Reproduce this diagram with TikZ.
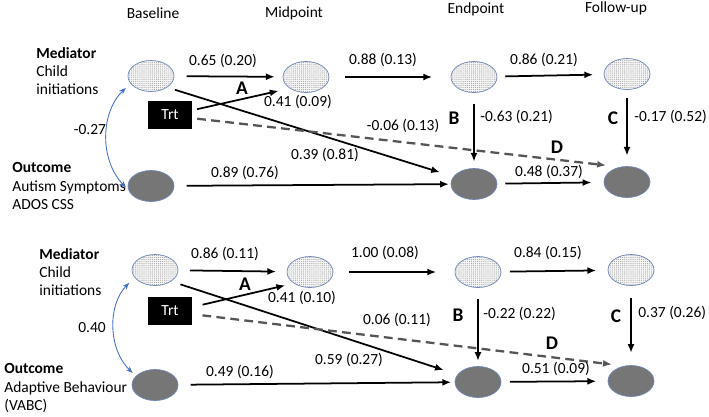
\documentclass[tikz,border=0pt]{standalone}
\usepackage{fontspec}
\setmainfont{Carlito}
\usetikzlibrary{arrows.meta,shapes.geometric,patterns}

\definecolor{rimblue}{HTML}{6F86B8}
\definecolor{covblue}{HTML}{4472C4}
\definecolor{outgray}{HTML}{767676}
\definecolor{dashgray}{HTML}{555555}

\pgfdeclarepatternformonly{finedots}{\pgfqpoint{-0.3pt}{-0.3pt}}{\pgfqpoint{0.3pt}{0.3pt}}{\pgfqpoint{1.1pt}{1.1pt}}{\pgfpathcircle{\pgfqpoint{0pt}{0pt}}{0.3pt}\pgfusepath{fill}}

\tikzset{
  med/.style={ellipse, draw=rimblue, line width=0.4pt, minimum width=0.92cm, minimum height=0.62cm, inner sep=0pt, preaction={fill=gray!6}, pattern=finedots, pattern color=gray!75},
  outc/.style={ellipse, draw=rimblue, line width=0.4pt, fill=outgray, minimum width=0.92cm, minimum height=0.62cm, inner sep=0pt},
  trtbox/.style={fill=black, text=white, minimum width=0.9cm, minimum height=0.56cm, inner sep=0pt},
  link/.style={-{Latex[length=5pt,width=4pt]}, line width=1pt, shorten <=6pt, shorten >=6pt},
  direct/.style={-{Latex[length=5pt,width=4pt]}, dashgray, line width=1.3pt, dash pattern=on 5pt off 3pt},
  cov/.style={{Stealth[length=4pt,width=3pt]}-{Stealth[length=4pt,width=3pt]}, covblue, line width=0.5pt},
  side/.style={align=left, anchor=west, inner sep=0pt},
  tag/.style={font=\bfseries\fontsize{11}{13}\selectfont}
}

\begin{document}
\begin{tikzpicture}[x=0.02cm, y=-0.02cm, font=\fontsize{8.8}{10.3}\selectfont]
\useasboundingbox (0,0) rectangle (709,416);

% time points
\node (hb) at (153,13) {Baseline};
\node (hm) at (294,13) {Midpoint};
\node (he) at (476,9) {Endpoint};
\node (hf) at (616,8) {Follow-up};

% ---- autism symptoms ----
\node[side] (mtxt1) at (36,71) {\textbf{Mediator}\\Child\\initiations};
\node[side] (otxt1) at (12,186) {\textbf{Outcome}\\Autism Symptoms\\ADOS CSS};

\node[med] (bm1) at (151,76) {};
\node[med] (mm1) at (306,77) {};
\node[med] (em1) at (474,77) {};
\node[med] (fm1) at (627,74) {};
\node[outc] (bo1) at (151,186) {};
\node[outc] (eo1) at (474,184) {};
\node[outc] (fo1) at (627,182) {};
\node[trtbox] (trt1) at (170,115) {Trt};

\draw[link, shorten <=7pt, shorten >=4.5pt] (bm1) -- (mm1);
\draw[link, shorten <=9pt, shorten >=10.5pt] (mm1) -- (em1);
\draw[link, shorten <=4.5pt, shorten >=6pt] (em1) -- (fm1);
\draw[link, shorten <=7pt, shorten >=1pt] (bo1) -- (eo1);
\draw[link, shorten <=4.5pt, shorten >=7pt] (eo1) -- (fo1);
\draw[link, shorten <=6.5pt, shorten >=3.7pt] (em1) -- (eo1);
\draw[link, shorten <=4.8pt, shorten >=6pt] (fm1) -- (fo1);
\draw[link, shorten <=4.6pt, shorten >=8pt] (bm1.-35) -- (eo1.160);
\draw[link, shorten <=2.5pt, shorten >=6.5pt] (trt1.12) -- (mm1.215);
\draw[direct, shorten <=2.5pt, shorten >=8pt] (trt1.-8) -- (fo1.115);
\draw[cov, shorten <=3.6pt, shorten >=2pt] (bm1.200) to[bend right=45] (bo1.190);

\node (l1) at (223,61) {0.65 (0.20)};
\node (l2) at (298,102) {0.41 (0.09)};
\node (l3) at (383,60) {0.88 (0.13)};
\node (l4) at (544,60) {0.86 (0.21)};
\node (l5) at (403,126) {-0.06 (0.13)};
\node (l6) at (325,155) {0.39 (0.81)};
\node[anchor=west, inner sep=0pt] (l7) at (480,117) {-0.63 (0.21)};
\node[anchor=west, inner sep=0pt] (l8) at (634,117) {-0.17 (0.52)};
\node (l9) at (245,173) {0.89 (0.76)};
\node (l10) at (549,172) {0.48 (0.37)};
\node (l11) at (90,130) {-0.27};
\node[tag] (ta1) at (242,88) {A};
\node[tag] (tb1) at (454,118) {B};
\node[tag] (tc1) at (613,118) {C};
\node[tag] (td1) at (557,147) {D};

% ---- adaptive behaviour ----
\node[side] (mtxt2) at (39,272) {\textbf{Mediator}\\Child\\initiations};
\node[side] (otxt2) at (4,388) {\textbf{Outcome}\\Adaptive Behaviour\\(VABC)};

\node[med] (bm2) at (155,270) {};
\node[med] (mm2) at (310,272) {};
\node[med] (em2) at (478,272) {};
\node[med] (fm2) at (631,270) {};
\node[outc] (bo2) at (155,385) {};
\node[outc] (eo2) at (478,382) {};
\node[outc] (fo2) at (631,381) {};
\node[trtbox] (trt2) at (170,311) {Trt};

\draw[link, shorten <=6.5pt, shorten >=6pt] (bm2) -- (mm2);
\draw[link, shorten <=8.8pt, shorten >=10.5pt] (mm2) -- (em2);
\draw[link, shorten <=4.8pt, shorten >=6.5pt] (em2) -- (fm2);
\draw[link, shorten <=7pt, shorten >=2pt] (bo2) -- (eo2);
\draw[link, shorten <=4.8pt, shorten >=6.5pt] (eo2) -- (fo2);
\draw[link, shorten <=6.5pt, shorten >=3pt] (em2) -- (eo2);
\draw[link, shorten <=7pt, shorten >=7pt] (fm2) -- (fo2);
\draw[link, shorten <=5.5pt, shorten >=8.2pt] (bm2.-35) -- (eo2.160);
\draw[link, shorten <=5.7pt, shorten >=5pt] (trt2.10) -- (mm2.215);
\draw[direct, shorten <=5.5pt, shorten >=7pt] (trt2.-8) -- (fo2.115);
\draw[cov, shorten <=4.3pt, shorten >=2.5pt] (bm2.200) to[bend right=45] (bo2.155);

\node (m1) at (225,254) {0.86 (0.11)};
\node (m2) at (302,298) {0.41 (0.10)};
\node (m3) at (385,253) {1.00 (0.08)};
\node (m4) at (548,253) {0.84 (0.15)};
\node (m5) at (397,320) {0.06 (0.11)};
\node (m6) at (349,360) {0.59 (0.27)};
\node[anchor=west, inner sep=0pt] (m7) at (483,314) {-0.22 (0.22)};
\node[anchor=west, inner sep=0pt] (m8) at (638,313) {0.37 (0.26)};
\node (m9) at (240,372) {0.49 (0.16)};
\node (m10) at (556,369) {0.51 (0.09)};
\node (m11) at (92,328) {0.40};
\node[tag] (ta2) at (245,284) {A};
\node[tag] (tb2) at (458,315) {B};
\node[tag] (tc2) at (616,316) {C};
\node[tag] (td2) at (552,343) {D};
\end{tikzpicture}
\end{document}
